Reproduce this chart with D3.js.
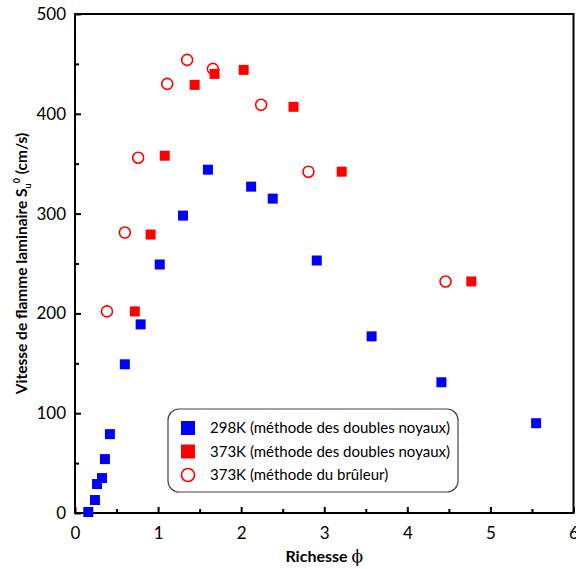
<!DOCTYPE html>
<html lang="fr">
<head>
<meta charset="utf-8"/>
<title>Vitesse de flamme laminaire</title>
<script src="https://d3js.org/d3.v7.min.js"></script>
<style>
  body { margin: 0; background: #fff; }
  text { font-family: Lato, "Open Sans", sans-serif; fill: #000; }
</style>
</head>
<body>
<div id="chart"></div>
<script>
// data
var phi298 = [0.16, 0.24, 0.265, 0.325, 0.36, 0.42, 0.60, 0.79, 1.02, 1.30, 1.60, 2.12, 2.38, 2.91, 3.57, 4.41, 5.55];
var su298  = [1, 13, 29, 35, 54, 79, 149, 189, 249, 298, 344, 327, 315, 253, 177, 131, 90];

var phi373 = [0.72, 0.91, 1.08, 1.44, 1.68, 2.03, 2.63, 3.21, 4.77];
var su373  = [202, 279, 358, 429, 440, 444, 407, 342, 232];

var phiBurner = [0.385, 0.60, 0.76, 1.11, 1.35, 1.66, 2.24, 2.81, 4.46];
var suBurner  = [202, 281, 356, 430, 454, 445, 409, 342, 232];

var xTicks = [0, 1, 2, 3, 4, 5, 6];
var yTicks = [0, 100, 200, 300, 400, 500];

var legendLabels = ["298K (méthode des doubles noyaux)", "373K (méthode des doubles noyaux)", "373K (méthode du brûleur)"];

var w = 576, h = 569;
var margin = {top: 14, right: 2, bottom: 56, left: 75};

var svg = d3.select("#chart").append("svg")
    .attr("width", w)
    .attr("height", h);

var xScale = d3.scaleLinear().domain([0, 6]).range([margin.left, w - margin.right - 0.5]);
var yScale = d3.scaleLinear().domain([0, 500]).range([h - margin.bottom, margin.top]);

// frame
svg.append("rect")
    .attr("x", xScale(0))
    .attr("y", yScale(500))
    .attr("width", xScale(6) - xScale(0))
    .attr("height", yScale(0) - yScale(500))
    .attr("fill", "none")
    .attr("stroke", "#000")
    .attr("stroke-width", 2);

// inward ticks, minor ones between
var xMinor = d3.range(0.5, 6, 1);
var yMinor = d3.range(50, 500, 100);

var xAxis = svg.append("g").attr("transform", "translate(0," + yScale(0) + ")")
    .call(d3.axisBottom(xScale).tickValues(xTicks).tickSize(-6).tickPadding(14).tickFormat(d3.format("d")));
var xAxisMinor = svg.append("g").attr("transform", "translate(0," + yScale(0) + ")")
    .call(d3.axisBottom(xScale).tickValues(xMinor).tickSize(-4).tickFormat(""));
var yAxis = svg.append("g").attr("transform", "translate(" + xScale(0) + ",0)")
    .call(d3.axisLeft(yScale).tickValues(yTicks).tickSize(-6).tickPadding(9).tickFormat(d3.format("d")));
var yAxisMinor = svg.append("g").attr("transform", "translate(" + xScale(0) + ",0)")
    .call(d3.axisLeft(yScale).tickValues(yMinor).tickSize(-4).tickFormat(""));

[xAxis, xAxisMinor, yAxis, yAxisMinor].forEach(function (g) {
    g.select(".domain").remove();
    g.selectAll("line").attr("stroke", "#000").attr("stroke-width", 2);
    g.selectAll("text").style("font-size", "17px").style("font-family", "Lato, sans-serif");
});

// points
var sq = 10;
svg.append("g").selectAll("rect")
    .data(d3.zip(phi298, su298))
    .enter().append("rect")
    .attr("x", function (d) { return xScale(d[0]) - sq / 2; })
    .attr("y", function (d) { return yScale(d[1]) - sq / 2; })
    .attr("width", sq).attr("height", sq)
    .attr("fill", "#0000ff");

svg.append("g").selectAll("rect")
    .data(d3.zip(phi373, su373))
    .enter().append("rect")
    .attr("x", function (d) { return xScale(d[0]) - sq / 2; })
    .attr("y", function (d) { return yScale(d[1]) - sq / 2; })
    .attr("width", sq).attr("height", sq)
    .attr("fill", "#ff0000");

svg.append("g").selectAll("circle")
    .data(d3.zip(phiBurner, suBurner))
    .enter().append("circle")
    .attr("cx", function (d) { return xScale(d[0]); })
    .attr("cy", function (d) { return yScale(d[1]); })
    .attr("r", 5.5)
    .attr("fill", "none")
    .attr("stroke", "#ff0000")
    .attr("stroke-width", 1.6);

// legend
var lg = svg.append("g").attr("transform", "translate(168,409)");
lg.append("rect")
    .attr("width", 290).attr("height", 83)
    .attr("rx", 11)
    .attr("fill", "#fff")
    .attr("stroke", "#444")
    .attr("stroke-width", 1.2);

var rows = lg.selectAll("g.row")
    .data(legendLabels)
    .enter().append("g")
    .attr("class", "row")
    .attr("transform", function (d, i) { return "translate(20," + (19 + i * 23.5) + ")"; });

rows.each(function (d, i) {
    var r = d3.select(this);
    if (i < 2) {
        r.append("rect").attr("x", -7).attr("y", -7).attr("width", 14).attr("height", 14)
            .attr("fill", i === 0 ? "#0000ff" : "#ff0000");
    } else {
        r.append("circle").attr("r", 6.5).attr("fill", "none")
            .attr("stroke", "#ff0000").attr("stroke-width", 1.6);
    }
    r.append("text").attr("x", 22).attr("dy", "0.35em")
        .style("font-size", "15px").text(d);
});

// axis titles
svg.append("text")
    .attr("x", (xScale(0) + xScale(6)) / 2)
    .attr("y", 562)
    .attr("text-anchor", "middle")
    .style("font-size", "16px")
    .style("font-weight", "bold")
    .text("Richesse ")
    .append("tspan").style("font-weight", "normal").style("font-family", "DejaVu Serif").style("font-size", "17px").text("ϕ");

var yl = svg.append("text")
    .attr("transform", "translate(27," + ((yScale(0) + yScale(500)) / 2) + ") rotate(-90)")
    .attr("text-anchor", "middle")
    .style("font-size", "15.5px")
    .style("font-weight", "bold");
yl.append("tspan").text("Vitesse de flamme laminaire S");
yl.append("tspan").attr("dy", 4).style("font-size", "9px").text("u");
yl.append("tspan").attr("dy", -11).style("font-size", "9px").text("0");
yl.append("tspan").attr("dy", 7).text(" (cm/s)");
</script>
</body>
</html>
